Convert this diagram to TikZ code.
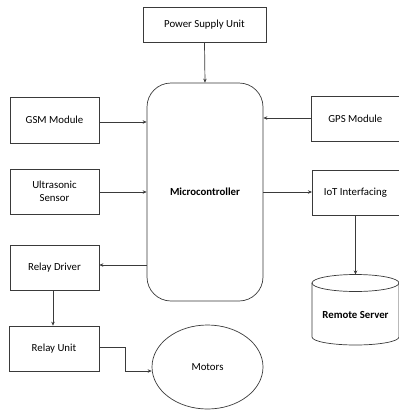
\documentclass[tikz,border=0pt]{standalone}
\usepackage{fontspec}
\setmainfont{Carlito}
\usetikzlibrary{arrows.meta,calc,shapes.geometric}
\definecolor{ln}{HTML}{3A3A3A}
\tikzset{
  blk/.style={draw=ln, line width=0.7pt, rectangle, inner sep=0pt, font=\fontsize{10.8}{13.5}\selectfont, align=center},
  conn/.style={draw=ln, line width=0.7pt, -{Stealth[length=4pt,width=3.5pt]}},
}
\begin{document}
\begin{tikzpicture}[x=1pt,y=-1pt]
\useasboundingbox (0,0) rectangle (399,410);
\node[blk, minimum width=123pt, minimum height=35pt] (psu) at (204.5,24.5) {Power Supply Unit};
\node[blk, rounded corners=24pt, minimum width=116pt, minimum height=218pt, font=\fontsize{10.8}{13.5}\selectfont\bfseries] (mcu) at (205,192) {Microcontroller};
\node[blk, minimum width=89pt, minimum height=46pt] (gsm) at (54.5,120) {GSM Module};
\node[blk, minimum width=92pt, minimum height=45pt, anchor=west] (gps) at (311,118.5) {\hspace*{-4pt}GPS Module};
\node[blk, minimum width=89pt, minimum height=45pt] (us) at (54.5,191.5) {Ultrasonic\\Sensor};
\node[blk, minimum width=92pt, minimum height=45pt, anchor=west] (iot) at (312,192.5) {\hspace*{-6pt}IoT Interfacing};
\node[blk, minimum width=89pt, minimum height=45pt] (rd) at (54.5,267.5) {Relay Driver};
\node[blk, minimum width=90pt, minimum height=45pt] (ru) at (54,348.5) {Relay Unit};
\node[blk, ellipse, minimum width=111pt, minimum height=84pt] (mot) at (207.5,367) {Motors};
% cylinder
\draw[ln, line width=0.7pt] (312,283) arc[start angle=180, end angle=0, x radius=43.5pt, y radius=8.5pt]
  arc[start angle=0, end angle=-180, x radius=43.5pt, y radius=8.5pt];
\draw[ln, line width=0.7pt] (312,283) -- (312,337) arc[start angle=180, end angle=360, x radius=43.5pt, y radius=8pt] -- (399,283);
\coordinate (rstop) at (355.5,274.5);
\node[font=\fontsize{10.8}{13.5}\selectfont\bfseries] (rs) at (355.5,315) {Remote Server};
% connectors
\draw[conn] (psu.south) -- (mcu.north);
\draw[conn] (gsm.east |- 0,122) -- (mcu.west |- 0,122);
\draw[conn] (gps.west |- 0,118) -- (mcu.east |- 0,118);
\draw[conn] (us.east |- 0,192) -- (mcu.west |- 0,192);
\draw[conn] (mcu.east |- 0,192) -- (iot.west |- 0,192);
\draw[conn] (mcu.west |- 0,265) -- (rd.east |- 0,265);
\draw[conn] (rd.south -| 53,0) -- (ru.north -| 53,0);
\draw[conn] (iot.south -| 355.5,0) -- (rstop);
\draw[conn] (ru.east |- 0,347) -| (125,371) -- (mot.west |- 0,371);
\end{tikzpicture}
\end{document}
